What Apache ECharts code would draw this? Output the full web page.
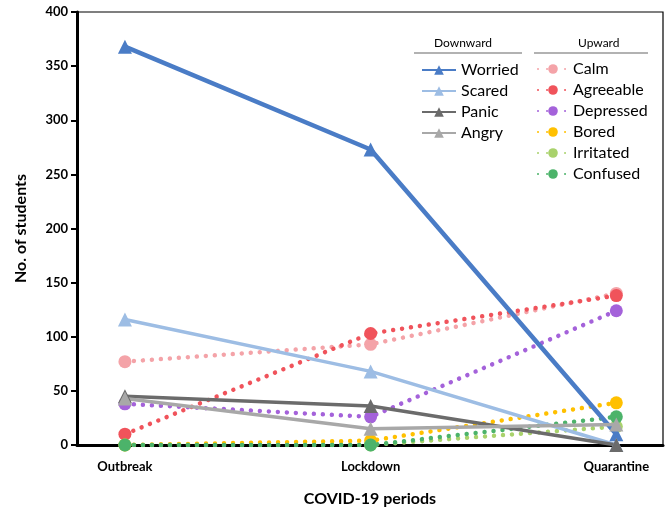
<!DOCTYPE html>
<html><head><meta charset="utf-8">
<script src="https://cdn.jsdelivr.net/npm/echarts@6/dist/echarts.min.js"></script>
<style>html,body{margin:0;padding:0;background:#fff}#c{width:669px;height:512px}</style>
</head><body><div id="c"></div>
<script>
const periods = ['Outbreak', 'Lockdown', 'Quarantine'];
const worried = [368, 273, 10];
const scared = [116, 68, 0];
const panic = [45, 36, 0];
const angry = [43, 15, 19];
const calm = [77, 93, 140];
const agreeable = [10, 103, 138];
const depressed = [38, 26, 124];
const bored = [0, 4, 39];
const irritated = [0, 0, 17];
const confused = [0, 0, 26];
const yTicks = [0, 50, 100, 150, 200, 250, 300, 350, 400];

const FONT = 'Lato';
function pts(arr){ return arr.map((v,i)=>[i,v]); }
function down(name, data, color, w){
  return {name, type:'line', data:pts(data), symbol:'triangle', symbolSize:14,
    itemStyle:{color}, lineStyle:{color, width:w}, z:3};
}
function up(name, data, color){
  return {name, type:'line', data:pts(data), symbol:'circle', symbolSize:13,
    itemStyle:{color}, lineStyle:{color, width:4.5, type:[0.01, 9], cap:'round'}, z:2};
}
const chart = echarts.init(document.getElementById('c'));
chart.setOption({
  animation:false,
  textStyle:{fontFamily:FONT},
  grid:{left:77, right:6, top:12, bottom:67, show:true, borderColor:'#000', borderWidth:1.2},
  xAxis:{type:'value', min:-0.195, max:2.19,
    name:'COVID-19 periods', nameLocation:'middle', nameGap:46,
    nameTextStyle:{fontFamily:FONT, fontWeight:'bold', fontSize:16, color:'#000'},
    axisLine:{onZero:false, lineStyle:{color:'#000', width:3}}, axisTick:{show:false}, splitLine:{show:false},
    axisLabel:{customValues:[0,1,2], formatter:v=>periods[Math.round(v)], margin:15,
      fontFamily:FONT, fontWeight:'bold', fontSize:13, color:'#000'}},
  yAxis:{type:'value', min:0, max:400, interval:50,
    name:'No. of students', nameLocation:'middle', nameGap:48,
    nameTextStyle:{fontFamily:FONT, fontWeight:'bold', fontSize:16, color:'#000'},
    axisLine:{show:true, onZero:false, lineStyle:{color:'#000', width:3}},
    axisTick:{show:true, length:6, lineStyle:{color:'#000', width:2}},
    splitLine:{show:false},
    axisLabel:{formatter:v=>yTicks.includes(v)?String(v):'', margin:9,
      fontFamily:FONT, fontWeight:'bold', fontSize:13, color:'#000'}},
  legend:[
    {data:['Worried','Scared','Panic','Angry'], orient:'vertical', left:416, top:57,
      itemWidth:34, itemHeight:12, itemGap:5,
      textStyle:{fontFamily:FONT, fontSize:16, color:'#000'}},
    {data:['Calm','Agreeable','Depressed','Bored','Irritated','Confused'], orient:'vertical', left:532, top:56,
      itemWidth:30, itemHeight:12, itemGap:5,
      textStyle:{fontFamily:FONT, fontSize:16, color:'#000'}}
  ],
  graphic:[
    {type:'text', left:434, top:37, style:{text:'Downward', font:'12px '+FONT, fill:'#000'}},
    {type:'line', shape:{x1:414, y1:53, x2:522, y2:53}, style:{stroke:'#666', lineWidth:1.2}},
    {type:'text', left:578, top:37, style:{text:'Upward', font:'12px '+FONT, fill:'#000'}},
    {type:'line', shape:{x1:534, y1:53, x2:648, y2:53}, style:{stroke:'#666', lineWidth:1.2}}
  ],
  series:[
    up('Calm', calm, '#f4a3a8'),
    up('Agreeable', agreeable, '#f0535b'),
    up('Depressed', depressed, '#a462da'),
    up('Bored', bored, '#ffc000'),
    up('Irritated', irritated, '#a9d26c'),
    up('Confused', confused, '#4cb36a'),
    down('Worried', worried, '#4a7cc6', 4.5),
    down('Scared', scared, '#9dbde4', 3.5),
    down('Panic', panic, '#6b6b6b', 3.5),
    down('Angry', angry, '#a8a8a8', 3.5)
  ]
});
</script></body></html>
